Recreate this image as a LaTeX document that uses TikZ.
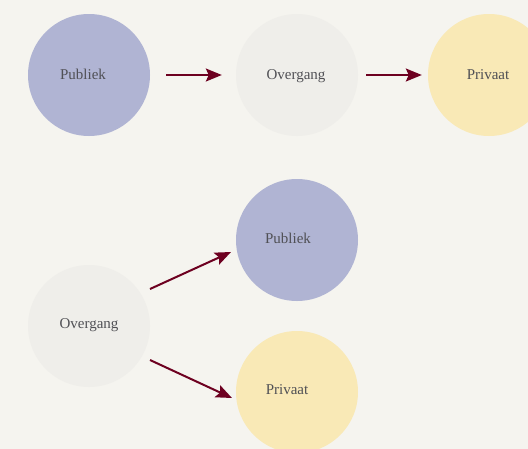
\documentclass[tikz,border=0pt]{standalone}
\usepackage{fontspec}
\setmainfont{Liberation Serif}
\usetikzlibrary{arrows.meta,calc}
\definecolor{bg}{HTML}{F5F4EF}
\definecolor{pub}{HTML}{B0B4D3}
\definecolor{ovg}{HTML}{EFEEEA}
\definecolor{priv}{HTML}{F9E9B6}
\definecolor{arr}{HTML}{6D0020}
\definecolor{txt}{HTML}{505055}
\tikzset{
  state/.style={circle, minimum size=122pt, inner sep=0pt},
  lbl/.style={text=txt, font=\fontsize{15}{17}\selectfont},
  conn/.style={draw=arr, line width=2pt, -{Stealth[length=16pt,width=13pt,inset=3pt]}}
}
\begin{document}
\begin{tikzpicture}[x=1pt,y=-1pt]
\useasboundingbox (0,0) rectangle (528,448);
\clip (0,0) rectangle (528,448);
\fill[bg] (-10,-10) rectangle (540,460);
\node[state, fill=pub] (p1) at (89,75) {};
\node[state, fill=ovg] (o1) at (297,75) {};
\node[state, fill=priv] (r1) at (489,75) {};
\node[state, fill=pub] (p2) at (297,240) {};
\node[state, fill=ovg] (o2) at (89,326) {};
\node[state, fill=priv] (r2) at (297,392) {};
\node[lbl] at ($(p1.center)+(-6,-1)$) {Publiek};
\node[lbl] at ($(o1.center)+(-1,1)$) {Overgang};
\node[lbl] at ($(r1.center)+(-1,0)$) {Privaat};
\node[lbl] at ($(p2.center)+(-9,-2)$) {Publiek};
\node[lbl] at ($(o2.center)+(0,-1)$) {Overgang};
\node[lbl] at ($(r2.center)+(-10,-2)$) {Privaat};
\draw[conn, shorten <=16pt, shorten >=14pt] (p1) -- (o1);
\draw[conn, shorten <=8pt, shorten >=6pt] (o1) -- (r1);
\coordinate (a1) at ($(o2.center)+(61,-37)$);
\coordinate (b1) at ($(p2.center)+(-66,12)$);
\coordinate (a2) at ($(o2.center)+(61,34)$);
\coordinate (b2) at ($(r2.center)+(-65,6)$);
\draw[conn] (a1) -- (b1);
\draw[conn] (a2) -- (b2);
\end{tikzpicture}
\end{document}
